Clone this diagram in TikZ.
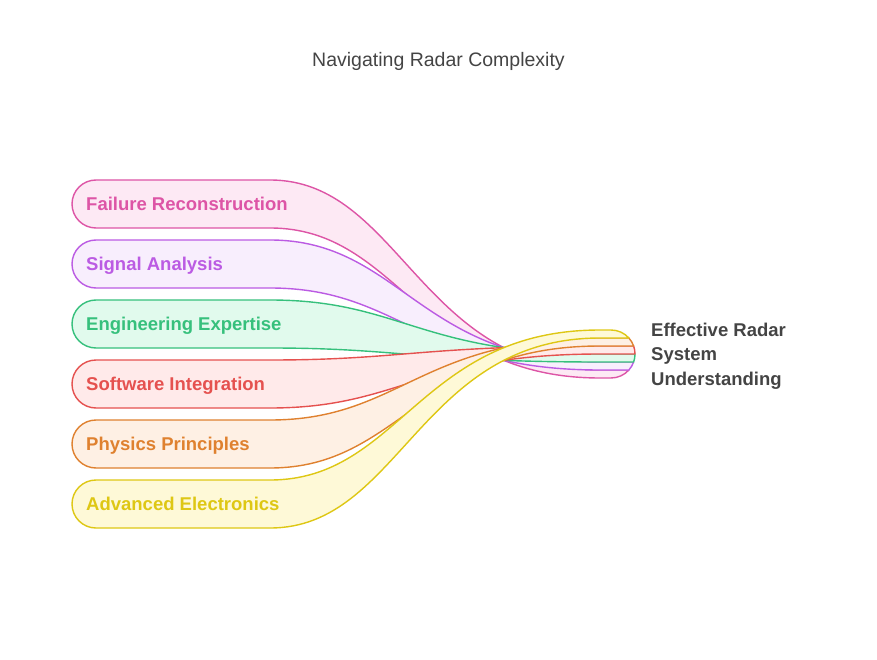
\documentclass[tikz,border=0pt]{standalone}
\usepackage{fontspec}
\setmainfont{Liberation Sans}
\definecolor{pinkL}{HTML}{DD55A6}
\definecolor{pinkF}{HTML}{FDE9F4}
\definecolor{purpleL}{HTML}{BB5BE3}
\definecolor{purpleF}{HTML}{F8EEFD}
\definecolor{greenL}{HTML}{36C07C}
\definecolor{greenF}{HTML}{E1FAED}
\definecolor{redL}{HTML}{E5514F}
\definecolor{redF}{HTML}{FFEAEA}
\definecolor{orangeL}{HTML}{DF812F}
\definecolor{orangeF}{HTML}{FEF0E4}
\definecolor{yellowL}{HTML}{DEC714}
\definecolor{yellowF}{HTML}{FEF9D7}
\definecolor{textgray}{HTML}{444444}
\begin{document}
\begin{tikzpicture}[x=1pt,y=-1pt,
    flow/.style={line width=1.4pt,line join=round},
    lbl/.style={anchor=base west,inner sep=0pt,font=\fontsize{18.5}{22}\selectfont\bfseries}]
    \useasboundingbox (0,0) rectangle (877,660);
    \def\xa{270}
    \def\xb{600}
    \def\cx{611}
    \def\cy{354}
    \node[anchor=base,inner sep=0pt,text=textgray,font=\fontsize{19.5}{24}\selectfont] (A0_0) at (438.5,67) {Navigating Radar Complexity};
    \foreach \col/\yl/\yr/\txt [count=\i] in {pink/180/370/Failure Reconstruction,purple/240/362/Signal Analysis,green/300/354/Engineering Expertise,red/360/346/Software Integration,orange/420/338/Physics Principles,yellow/480/330/Advanced Electronics}{
      \pgfmathsetmacro\at{asin((\yr-\cy)/24)}
      \pgfmathsetmacro\ab{asin((\yr+8-\cy)/24)}
      \filldraw[flow,draw=\col L,fill=\col F] (96,\yl) -- (\xa,\yl) .. controls (400,\yl) and (420,\yr) .. (\xb,\yr)
        -- ([shift={(\cx,\cy)}]\at:24) arc[start angle=\at,end angle=\ab,radius=24]
        -- (\xb,\yr+8) .. controls (420,\yr+8) and (400,\yl+48) .. (\xa,\yl+48)
        -- (96,\yl+48) arc[start angle=90,end angle=270,radius=24] -- cycle;
      \node[lbl,text=\col L] (A\i_0) at (86,\yl+30.7) {\txt};
    }
    \node[anchor=west,align=left,inner sep=0pt,text=textgray,font=\fontsize{18.5}{24.3}\selectfont\bfseries] (A3_1) at (651,356) {Effective Radar\\System\\Understanding};
  \end{tikzpicture}
\end{document}
